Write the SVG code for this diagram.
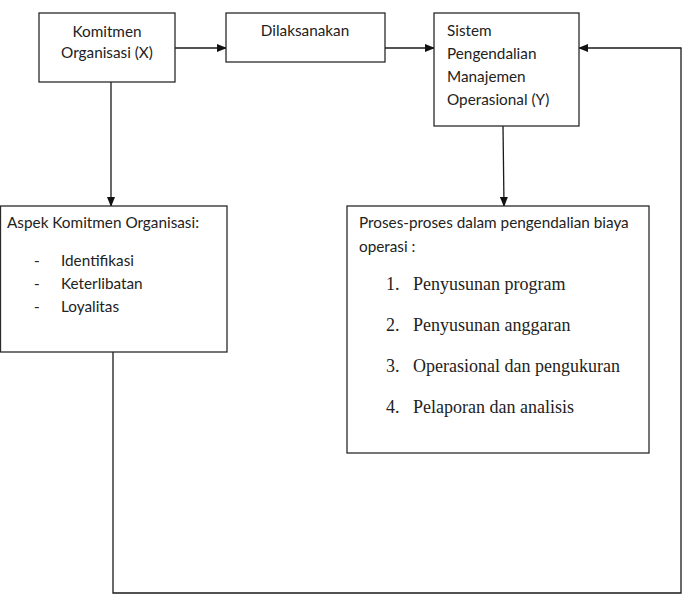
<svg xmlns="http://www.w3.org/2000/svg" width="684" height="608" viewBox="0 0 684 608">
<style>
.box{fill:#fff;stroke:#2a2a2a;stroke-width:1.3}
.ln{fill:none;stroke:#1a1a1a;stroke-width:1.3}
.t{font-family:Lato,"Liberation Sans",Arial,sans-serif;font-size:15.3px;fill:#222}
.s{font-family:"Liberation Serif","Times New Roman",serif;font-size:18px;fill:#222}
</style>
<defs>
<marker id="ah" markerWidth="10" markerHeight="8" refX="9" refY="4" orient="auto" markerUnits="userSpaceOnUse">
<path d="M0,0 L10,4 L0,8 Z" fill="#111"/>
</marker>
</defs>
<rect width="684" height="608" fill="#fff"/>
<g id="connectors">
<line class="ln" x1="175" y1="48" x2="226" y2="48" marker-end="url(#ah)"/>
<line class="ln" x1="385" y1="48" x2="434" y2="48" marker-end="url(#ah)"/>
<line class="ln" x1="111" y1="82" x2="111" y2="206" marker-end="url(#ah)"/>
<line class="ln" x1="503" y1="126" x2="504" y2="206" marker-end="url(#ah)"/>
<polyline class="ln" points="113,352 113,593 681,593 681,48 579,48" marker-end="url(#ah)"/>
</g>
<g id="n1">
<rect class="box" x="39" y="13" width="136" height="69"/>
<text class="t" x="107" y="37" text-anchor="middle">Komitmen</text>
<text class="t" x="107" y="58" text-anchor="middle">Organisasi (X)</text>
</g>
<g id="n2">
<rect class="box" x="226" y="13" width="159" height="49"/>
<text class="t" x="305" y="36" text-anchor="middle">Dilaksanakan</text>
</g>
<g id="n3">
<rect class="box" x="434" y="13" width="145" height="113"/>
<text class="t" x="447" y="36">Sistem</text>
<text class="t" x="447" y="59">Pengendalian</text>
<text class="t" x="447" y="82">Manajemen</text>
<text class="t" x="447" y="105">Operasional (Y)</text>
</g>
<g id="n4">
<rect class="box" x="0.5" y="206" width="226.5" height="146"/>
<text class="t" x="7" y="228">Aspek Komitmen Organisasi:</text>
<text class="t" x="34" y="266">-</text>
<text class="t" x="61" y="266">Identifikasi</text>
<text class="t" x="34" y="289">-</text>
<text class="t" x="61" y="289">Keterlibatan</text>
<text class="t" x="34" y="312">-</text>
<text class="t" x="61" y="312">Loyalitas</text>
</g>
<g id="n5">
<rect class="box" x="347" y="206" width="302" height="247"/>
<text class="t" x="359" y="228">Proses-proses dalam pengendalian biaya</text>
<text class="t" x="359" y="252">operasi :</text>
<text class="s" x="386" y="290">1.</text>
<text class="s" x="413" y="290">Penyusunan program</text>
<text class="s" x="386" y="331">2.</text>
<text class="s" x="413" y="331">Penyusunan anggaran</text>
<text class="s" x="386" y="372">3.</text>
<text class="s" x="413" y="372">Operasional dan pengukuran</text>
<text class="s" x="386" y="413">4.</text>
<text class="s" x="413" y="413">Pelaporan dan analisis</text>
</g>
</svg>
